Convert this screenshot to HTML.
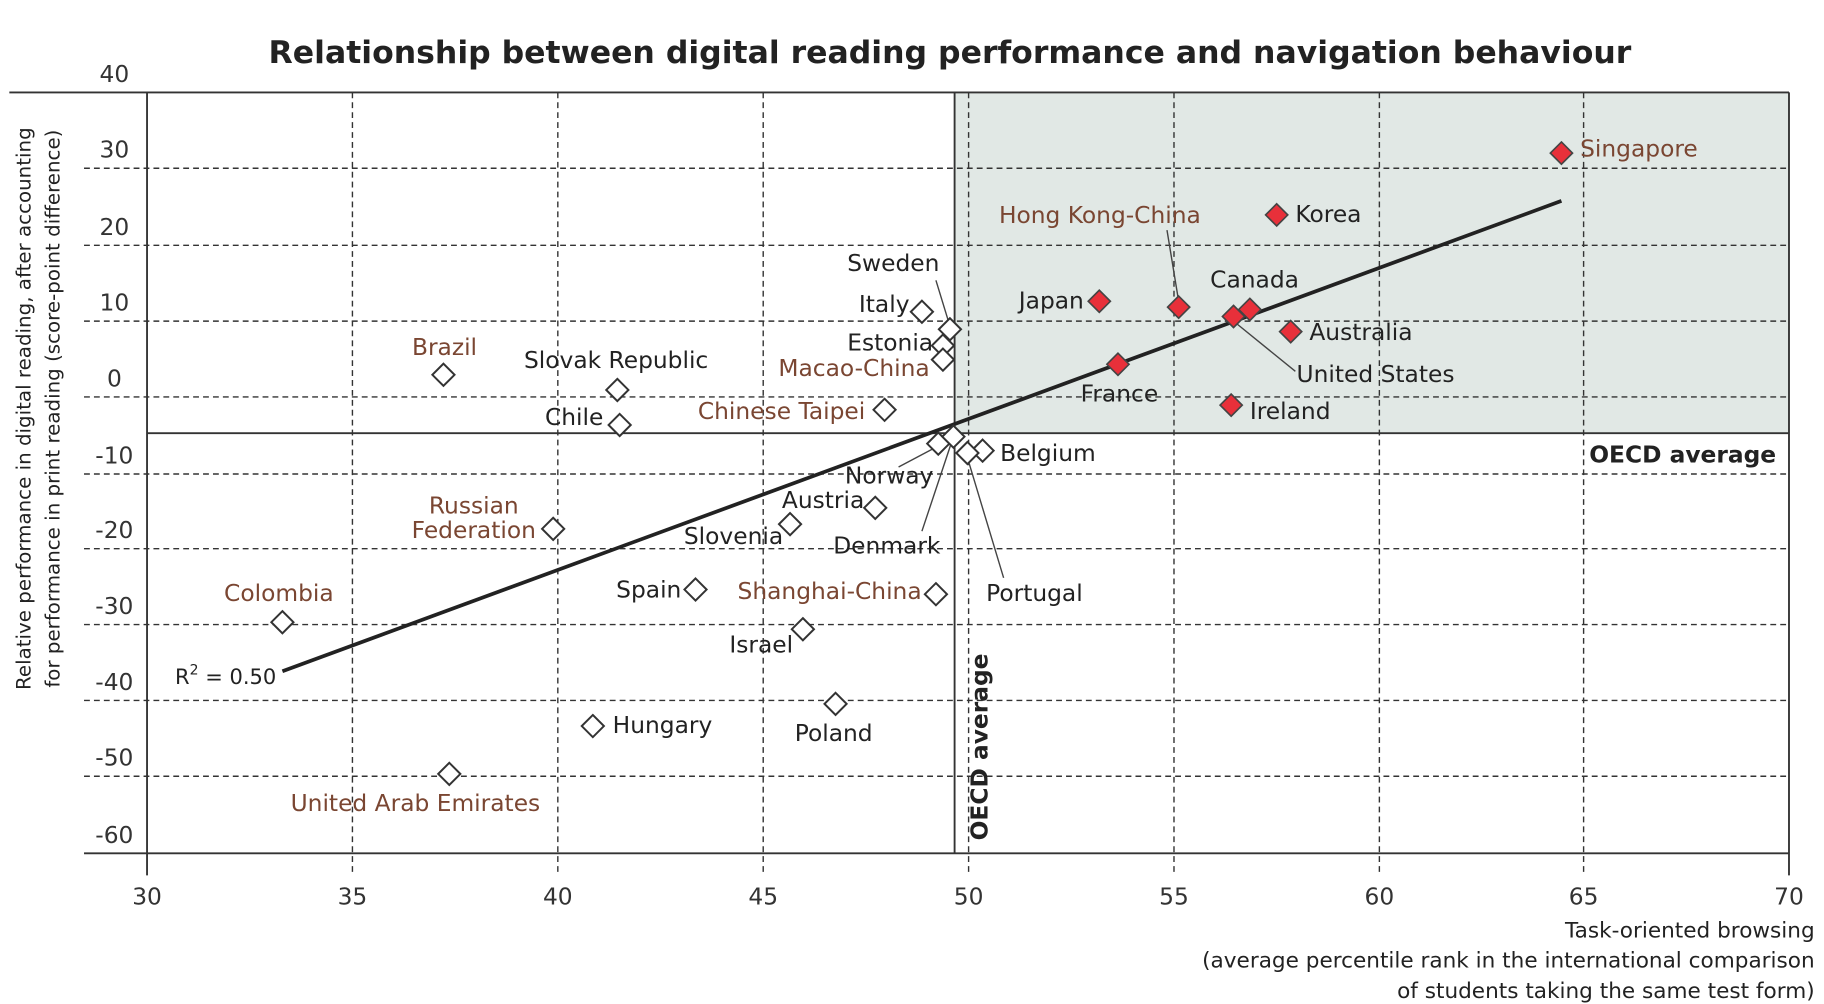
<!DOCTYPE html>
<html><head><meta charset="utf-8"><style>
html,body{margin:0;padding:0;background:#fff;}
svg{display:block;}
text{font-family:"DejaVu Sans","Liberation Sans",sans-serif;fill:#222;}
.l{font-size:20px;}
.b{fill:#7a4632;}
.t{font-size:20px;fill:#333;}
</style></head><body>
<svg width="1824" height="1004" viewBox="0 0 1563 860" xmlns="http://www.w3.org/2000/svg">
<defs>
<g id="o"><polygon points="0,-9.5 9.5,0 0,9.5 -9.5,0" fill="#fff" stroke="#333" stroke-width="1.7"/></g>
<g id="f"><polygon points="0,-9.5 9.5,0 0,9.5 -9.5,0" fill="#e8303a" stroke="#444" stroke-width="1.4"/></g>
</defs>
<text x="814" y="54" text-anchor="middle" style="font-size:27px;font-weight:bold;fill:#222">Relationship between digital reading performance and navigation behaviour</text>
<rect x="818" y="79" width="715" height="292" fill="#e1e8e5"/>
<g stroke="#333" stroke-width="1.2" stroke-dasharray="5,3.5" fill="none">
<path d="M72 144H1533M72 210H1533M72 275H1533M72 340H1533M72 406H1533M72 470H1533M72 535H1533M72 600H1533M72 665H1533"/>
<path d="M302 79V750M478 79V750M654 79V750M830 79V750M1006 79V750M1182 79V750M1357 79V750"/>
</g>
<g stroke="#333" stroke-width="1.6" fill="none">
<path d="M8 79H1533M72 731H1533M126 79V750M1533 79V750M818 79V731M126 371H1533"/>
</g>
<g class="t" text-anchor="middle">
<text x="98" y="70" class="t">40</text><text x="98" y="135" class="t">30</text><text x="98" y="201" class="t">20</text><text x="98" y="266" class="t">10</text><text x="98" y="331" class="t">0</text><text x="98" y="397" class="t">-10</text><text x="98" y="461" class="t">-20</text><text x="98" y="526" class="t">-30</text><text x="98" y="591" class="t">-40</text><text x="98" y="656" class="t">-50</text><text x="98" y="722" class="t">-60</text>
<text x="126" y="775" class="t">30</text><text x="302" y="775" class="t">35</text><text x="478" y="775" class="t">40</text><text x="654" y="775" class="t">45</text><text x="830" y="775" class="t">50</text><text x="1006" y="775" class="t">55</text><text x="1182" y="775" class="t">60</text><text x="1357" y="775" class="t">65</text><text x="1533" y="775" class="t">70</text>
</g>
<g style="font-size:17px" text-anchor="middle">
<text transform="translate(26,350) rotate(-90)">Relative performance in digital reading, after accounting</text>
<text transform="translate(51,350) rotate(-90)">for performance in print reading (score-point difference)</text>
</g>
<g style="font-size:18.5px" text-anchor="end">
<text x="1555" y="803">Task-oriented browsing</text>
<text x="1555" y="829">(average percentile rank in the international comparison</text>
<text x="1555" y="855">of students taking the same test form)</text>
</g>
<line x1="242" y1="575" x2="1338" y2="172" stroke="#222" stroke-width="3.2"/>
<g stroke="#444" stroke-width="1.2">
<line x1="1000" y1="197" x2="1010" y2="258"/>
<line x1="1057" y1="275" x2="1110" y2="318"/>
<line x1="802" y1="240" x2="813" y2="276"/>
<line x1="770" y1="400" x2="804" y2="382"/>
<line x1="790" y1="455" x2="815" y2="380"/>
<line x1="860" y1="495" x2="829" y2="392"/>
</g>
<use href="#f" x="1338" y="131"/><use href="#f" x="1094" y="184"/><use href="#f" x="1010" y="263"/><use href="#f" x="942" y="258"/><use href="#f" x="1071" y="265"/><use href="#f" x="1057" y="271"/><use href="#f" x="1106" y="284"/><use href="#f" x="958" y="312"/><use href="#f" x="1055" y="347"/>
<use href="#o" x="814" y="282"/><use href="#o" x="790" y="267"/><use href="#o" x="808" y="296"/><use href="#o" x="808" y="308"/><use href="#o" x="758" y="351"/><use href="#o" x="380" y="321"/><use href="#o" x="529" y="334"/><use href="#o" x="531" y="364"/><use href="#o" x="842" y="386"/><use href="#o" x="804" y="380"/><use href="#o" x="817" y="374"/><use href="#o" x="829" y="388"/><use href="#o" x="750" y="435"/><use href="#o" x="677" y="449"/><use href="#o" x="474" y="453"/><use href="#o" x="596" y="505"/><use href="#o" x="802" y="509"/><use href="#o" x="688" y="539"/><use href="#o" x="242" y="533"/><use href="#o" x="508" y="622"/><use href="#o" x="716" y="603"/><use href="#o" x="385" y="663"/>
<g class="l">
<text x="1354" y="134" class="l b">Singapore</text>
<text x="1110" y="190" class="l">Korea</text>
<text x="856" y="191" class="l b">Hong Kong-China</text>
<text x="873" y="264" class="l">Japan</text>
<text x="1037" y="246" class="l">Canada</text>
<text x="1111" y="327" class="l">United States</text>
<text x="1122" y="291" class="l">Australia</text>
<text x="926" y="344" class="l">France</text>
<text x="1071" y="359" class="l">Ireland</text>
<text x="726" y="232" class="l">Sweden</text>
<text x="736" y="267" class="l">Italy</text>
<text x="726" y="300" class="l">Estonia</text>
<text x="667" y="322" class="l b">Macao-China</text>
<text x="598" y="359" class="l b">Chinese Taipei</text>
<text x="353" y="304" class="l b">Brazil</text>
<text x="449" y="315" class="l">Slovak Republic</text>
<text x="467" y="364" class="l">Chile</text>
<text x="857" y="395" class="l">Belgium</text>
<text x="724" y="414" class="l">Norway</text>
<text x="714" y="474" class="l">Denmark</text>
<text x="845" y="515" class="l">Portugal</text>
<text x="670" y="435" class="l">Austria</text>
<text x="586" y="466" class="l">Slovenia</text>
<text x="406" y="440" class="l b" text-anchor="middle">Russian</text>
<text x="406" y="461" class="l b" text-anchor="middle">Federation</text>
<text x="528" y="512" class="l">Spain</text>
<text x="632" y="513" class="l b">Shanghai-China</text>
<text x="625" y="559" class="l">Israel</text>
<text x="192" y="515" class="l b">Colombia</text>
<text x="525" y="628" class="l">Hungary</text>
<text x="681" y="635" class="l">Poland</text>
<text x="249" y="695" class="l b">United Arab Emirates</text>
<text x="150" y="586" class="l" style="font-size:18px">R<tspan dy="-8" style="font-size:12px">2</tspan><tspan dy="8"> = 0.50</tspan></text>
<text x="1522" y="396" class="l" text-anchor="end" style="font-weight:bold">OECD average</text>
<text transform="translate(846,720) rotate(-90)" class="l" style="font-weight:bold">OECD average</text>
</g>
</svg>
</body></html>
